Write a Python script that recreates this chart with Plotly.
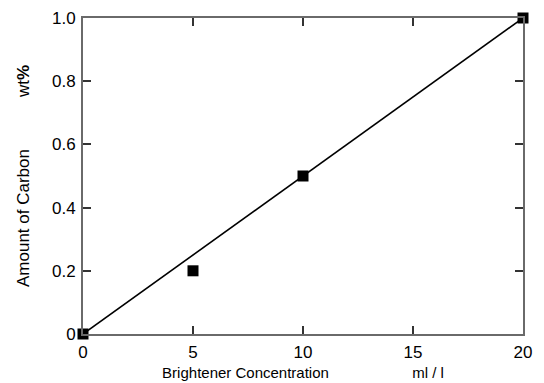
import plotly.graph_objects as go

conc = [0, 5, 10, 20]
carbon = [0.0, 0.2, 0.5, 1.0]
fit_x = [0, 20]
fit_y = [0.0, 1.0]
x_ticks = [0, 5, 10, 15, 20]
y_ticks = [0, 0.2, 0.4, 0.6, 0.8, 1.0]
y_ticktext = ["0", "0.2", "0.4", "0.6", "0.8", "1.0"]

fig = go.Figure()
fig.add_trace(go.Scatter(x=fit_x, y=fit_y, mode="lines",
                         line=dict(color="black", width=1.6),
                         cliponaxis=False, showlegend=False))
fig.add_trace(go.Scatter(x=conc, y=carbon, mode="markers",
                         marker=dict(symbol="square", size=11, color="black"),
                         cliponaxis=False, showlegend=False))

font = "Liberation Sans, Arial, sans-serif"
nb = "\u00a0"
fig.update_layout(
    width=544, height=383,
    margin=dict(l=83, r=21, t=18, b=49),
    plot_bgcolor="white", paper_bgcolor="white",
    font=dict(family=font, color="black"),
    xaxis=dict(range=[0, 20], tickvals=x_ticks, ticks="inside", ticklen=8,
               tickcolor="#333", tickwidth=1.5, mirror="ticks", showline=True,
               linecolor="#6a6a6a", linewidth=2, showgrid=False, zeroline=False,
               tickfont=dict(size=17), ticklabelstandoff=2, automargin=False,
               title=dict(text="Brightener Concentration" + nb * 20 + "ml / l",
                          font=dict(size=15), standoff=6)),
    yaxis=dict(range=[0, 1.0], tickvals=y_ticks, ticktext=y_ticktext, ticks="inside",
               ticklen=8, tickcolor="#333", tickwidth=1.5, mirror="ticks", showline=True,
               linecolor="#6a6a6a", linewidth=2, showgrid=False, zeroline=False,
               tickfont=dict(size=17), ticklabelstandoff=2, automargin=False,
               title=dict(text="Amount of Carbon" + nb * 11 + "wt<b>%</b>" + nb * 3,
                          font=dict(size=17), standoff=18)),
)
fig.write_html("out.html")
